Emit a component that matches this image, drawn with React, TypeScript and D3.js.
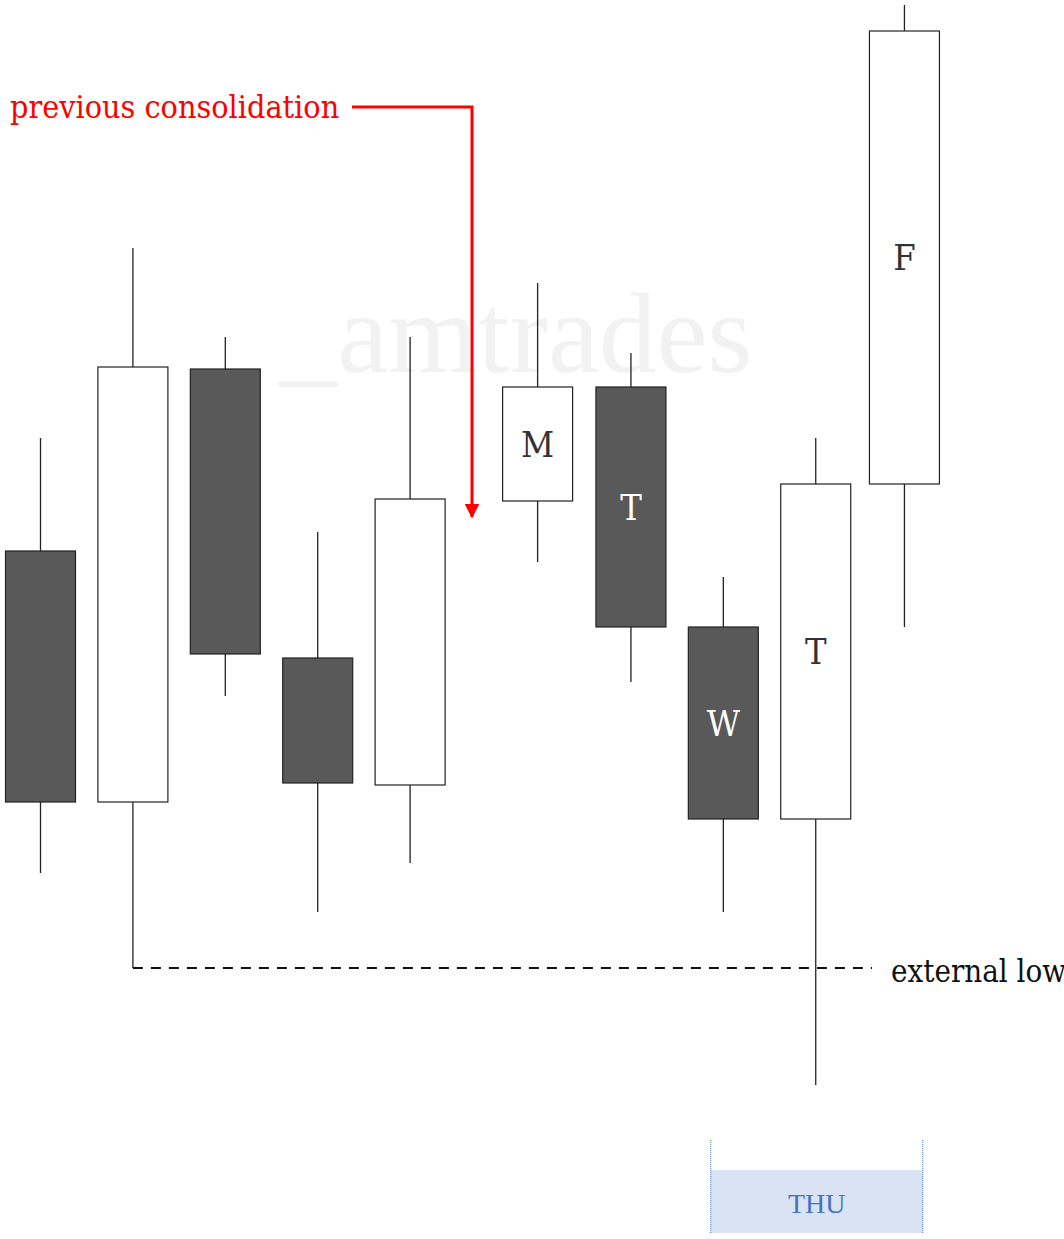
import { useMemo } from "react";
import * as d3 from "d3";

const WIDTH = 1064;
const HEIGHT = 1239;

// candle slots (x position in candle steps) and prices (arbitrary units)
const slots = [0, 1, 2, 3, 4, 5.38, 6.39, 7.39, 8.39, 9.35];
const highs = [66.2, 85.2, 76.3, 56.8, 76.3, 81.7, 74.7, 52.3, 66.2, 109.5];
const opens = [54.9, 29.8, 73.1, 44.2, 31.5, 59.9, 71.3, 47.3, 28.1, 61.6];
const closes = [29.8, 73.3, 44.6, 31.7, 60.1, 71.3, 47.3, 28.1, 61.6, 106.9];
const lows = [22.7, 13.2, 40.4, 18.8, 23.7, 53.8, 41.8, 18.8, 1.5, 47.3];
const letters = ["", "", "", "", "", "M", "T", "W", "T", "F"];

const EXTERNAL_LOW = 13.2;
const DAY_LABEL = "THU";
const NOTE = "previous consolidation";
const LOW_LABEL = "external low";
const WATERMARK = "_amtrades";

const BODY_W = 70;
const SERIF = "'DejaVu Serif Condensed', 'DejaVu Serif', serif";

const App = () => {
  const xScale = useMemo(
    () => d3.scaleLinear().domain([0, 1]).range([40.5, 132.9]),
    []
  );
  const yScale = useMemo(
    () => d3.scaleLinear().domain([0, 110]).range([1100, 0]),
    []
  );

  const candles = slots.map((s, i) => {
    const x = xScale(s);
    const up = closes[i] > opens[i];
    const top = yScale(Math.max(opens[i], closes[i]));
    const bot = yScale(Math.min(opens[i], closes[i]));
    return (
      <g key={i}>
        <line x1={x} x2={x} y1={yScale(highs[i])} y2={yScale(lows[i])} stroke="#222" strokeWidth={1.3} />
        <rect
          x={x - BODY_W / 2}
          y={top}
          width={BODY_W}
          height={bot - top}
          fill={up ? "#ffffff" : "#595959"}
          stroke="#222"
          strokeWidth={1.2}
        />
        {letters[i] && (
          <text
            x={x}
            y={(top + bot) / 2}
            dy="0.35em"
            textAnchor="middle"
            fontFamily={SERIF}
            fontSize={36}
            fill={up ? "#333333" : "#ffffff"}
          >
            {letters[i]}
          </text>
        )}
      </g>
    );
  });

  const lowY = yScale(EXTERNAL_LOW);
  // arrow from the note down into the gap between the two groups
  const arrowX = xScale(4.67);
  const noteY = 107;

  const dayX0 = xScale(8.39) - 105;
  const dayX1 = xScale(8.39) + 107;

  return (
    <svg
      width={WIDTH}
      height={HEIGHT}
      style={{ position: "absolute", left: 0, top: 0, background: "#fff" }}
    >
      <defs>
        <marker id="arrowHead" viewBox="0 0 10 10" refX="9" refY="5" markerWidth="5" markerHeight="6" orient="auto">
          <path d="M0,0 L10,5 L0,10 z" fill="#ff0000" />
        </marker>
      </defs>
      <text
        x={516}
        y={372}
        textAnchor="middle"
        fontFamily="'Liberation Serif', serif"
        fontSize={115}
        fill="#f2f2f2"
      >
        {WATERMARK}
      </text>

      {/* THU box */}
      <rect x={dayX0} y={1170} width={dayX1 - dayX0} height={63} fill="#dae3f3" />
      <line x1={dayX0} x2={dayX0} y1={1140} y2={1233} stroke="#4472c4" strokeWidth={1} strokeDasharray="1,1" />
      <line x1={dayX1} x2={dayX1} y1={1140} y2={1233} stroke="#4472c4" strokeWidth={1} strokeDasharray="1,1" />
      <text x={(dayX0 + dayX1) / 2} y={1213} textAnchor="middle" fontFamily="'Liberation Serif', serif" fontSize={28} fill="#4472c4">
        {DAY_LABEL}
      </text>

      {/* external low */}
      <line x1={xScale(1)} x2={872} y1={lowY} y2={lowY} stroke="#111" strokeWidth={2} strokeDasharray="10,8" />

      {candles}

      <text x={891} y={982} fontFamily={SERIF} fontSize={31} fill="#111">
        {LOW_LABEL}
      </text>

      <text x={10} y={118} fontFamily={SERIF} fontSize={32} fill="#ff0000">
        {NOTE}
      </text>
      <polyline
        points={`352,${noteY} ${arrowX},${noteY} ${arrowX},517`}
        fill="none"
        stroke="#ff0000"
        strokeWidth={3}
        markerEnd="url(#arrowHead)"
      />
    </svg>
  );
};

export default App;
